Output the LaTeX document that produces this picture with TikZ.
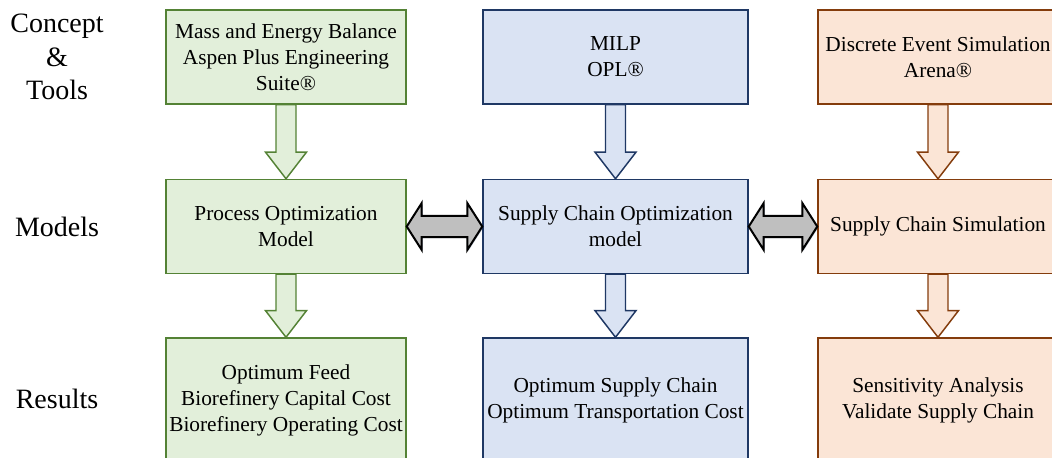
\documentclass[tikz,border=0pt]{standalone}
\usepackage{fontspec}
\setmainfont{Liberation Serif}
\usetikzlibrary{calc,shadows}

\definecolor{grnfill}{HTML}{E2EFDA}
\definecolor{grnline}{HTML}{548235}
\definecolor{blufill}{HTML}{DAE3F3}
\definecolor{bluline}{HTML}{1F3864}
\definecolor{orgfill}{HTML}{FBE5D6}
\definecolor{orgline}{HTML}{843C0C}
\definecolor{linkgray}{HTML}{BFBFBF}

\begin{document}
\begin{tikzpicture}[x=0.75pt, y=-0.75pt,
      stage/.style={draw, line width=1.1pt, minimum width=180pt, minimum height=70.5pt, inner sep=1pt, align=center, font=\fontsize{16}{19.5}\selectfont},
      rowlabel/.style={align=center, font=\fontsize{21}{25}\selectfont},
      grn/.style={fill=grnfill, draw=grnline},
      blu/.style={fill=blufill, draw=bluline},
      org/.style={fill=orgfill, draw=orgline},
      downarr/.style={line width=1.1pt, to path={let \p1=(\tikztostart), \p2=(\tikztotarget) in
        (\x1-7.5pt,\y1) -- (\x1-7.5pt,\y2+20pt) -- (\x1-15.4pt,\y2+20pt) -- (\x1,\y2)
        -- (\x1+15.4pt,\y2+20pt) -- (\x1+7.5pt,\y2+20pt) -- (\x1+7.5pt,\y1) -- cycle}},
      linkarr/.style={fill=linkgray, draw=black, line width=1.5pt,
        drop shadow={shadow xshift=0.8pt, shadow yshift=-0.8pt, opacity=0.3, fill=bluline},
        to path={let \p1=(\tikztostart), \p2=(\tikztotarget) in
        (\x1,\y1) -- (\x1+11.25pt,\y1+17.6pt) -- (\x1+11.25pt,\y1+7.9pt) -- (\x2-11.25pt,\y1+7.9pt)
        -- (\x2-11.25pt,\y1+17.6pt) -- (\x2,\y1) -- (\x2-11.25pt,\y1-17.6pt) -- (\x2-11.25pt,\y1-7.9pt)
        -- (\x1+11.25pt,\y1-7.9pt) -- (\x1+11.25pt,\y1-17.6pt) -- cycle}}
    ]
    \useasboundingbox (0,0) rectangle (1052,457);
    \clip (0,0) rectangle (1052,457);

    % row labels
    \node[rowlabel] (lbltools) at (57,57) {Concept\\\&\\Tools};
    \node[rowlabel] (lblmodels) at (57,226.5) {Models};
    \node[rowlabel] (lblresults) at (57,399) {Results};

    % process column
    \node[stage, grn] (mass) at (286,57) {Mass and Energy Balance\\Aspen Plus Engineering\\Suite®};
    \node[stage, grn] (procopt) at (286,226.5) {Process Optimization\\Model};
    \node[stage, grn, minimum height=93pt] (feed) at (286,400) {Optimum Feed\\Biorefinery Capital Cost\\Biorefinery Operating Cost};

    % optimization column
    \node[stage, blu, minimum width=198.75pt] (milp) at (615.5,57) {MILP\\OPL®};
    \node[stage, blu, minimum width=198.75pt] (scopt) at (615.5,226.5) {Supply Chain Optimization\\model};
    \node[stage, blu, minimum width=198.75pt, minimum height=93pt] (optsc) at (615.5,400) {Optimum Supply Chain\\Optimum Transportation Cost};

    % simulation column
    \node[stage, org] (des) at (938,57) {Discrete Event Simulation\\Arena®};
    \node[stage, org] (scsim) at (938,226.5) {Supply Chain Simulation};
    \node[stage, org, minimum height=93pt] (sens) at (938,400) {Sensitivity Analysis\\Validate Supply Chain};

    \draw[downarr, grn] (mass.south) to (procopt.north);
    \draw[downarr, grn] (procopt.south) to (feed.north);
    \draw[downarr, blu] (milp.south) to (scopt.north);
    \draw[downarr, blu] (scopt.south) to (optsc.north);
    \draw[downarr, org] (des.south) to (scsim.north);
    \draw[downarr, org] (scsim.south) to (sens.north);

    \draw[linkarr] (procopt.east) to (scopt.west);
    \draw[linkarr] (scopt.east) to (scsim.west);
  \end{tikzpicture}
\end{document}
